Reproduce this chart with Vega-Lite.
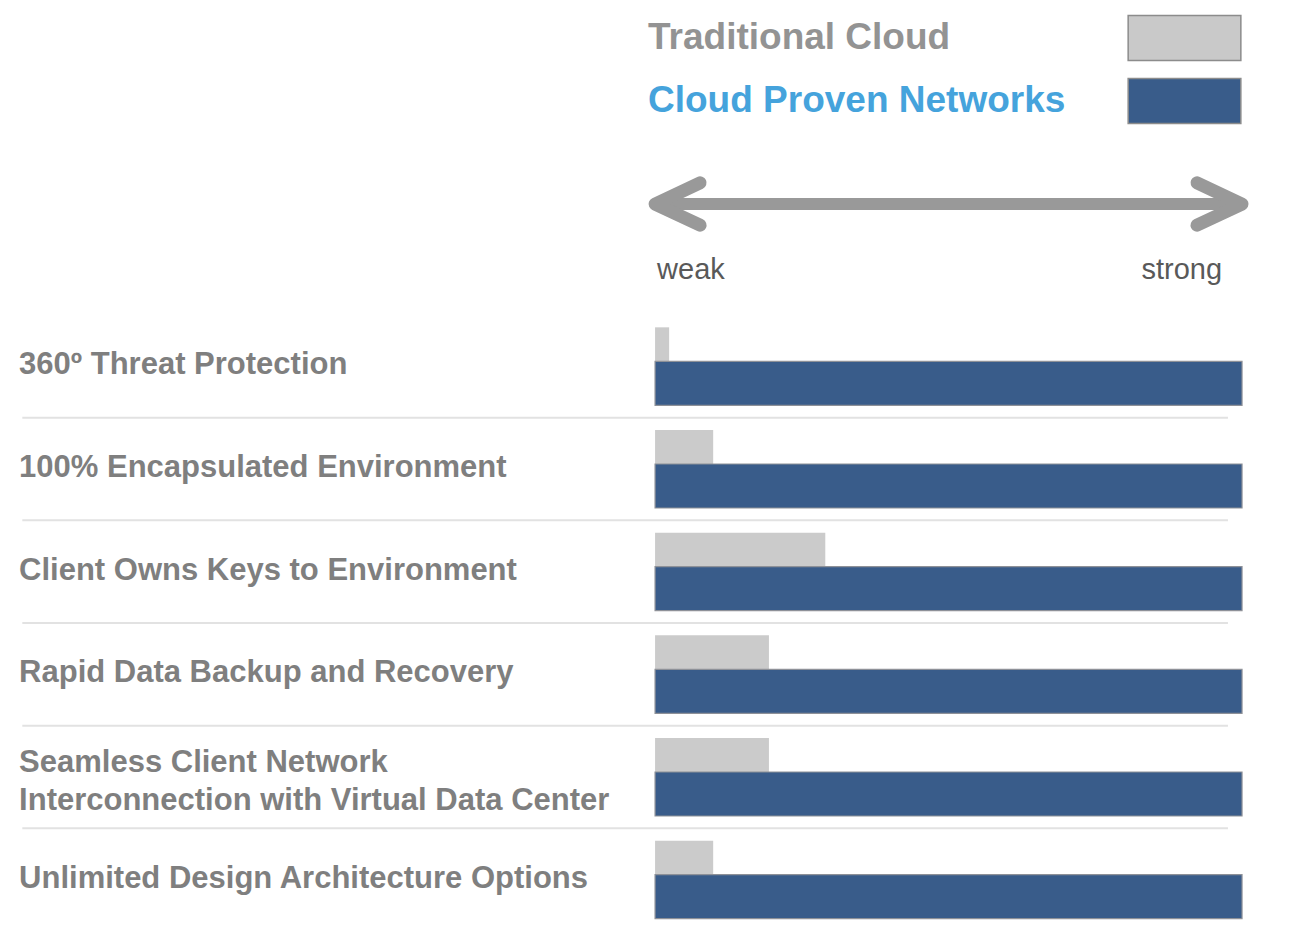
{
  "$schema": "https://vega.github.io/schema/vega-lite/v6.json",
  "padding": 0,
  "spacing": 0,
  "bounds": "flush",
  "background": "white",
  "config": {"view": {"stroke": null}, "font": "Liberation Sans"},
  "datasets": {
    "legend": [
      {"series": "Traditional Cloud"},
      {"series": "Cloud Proven Networks"}
    ],
    "ends": [
      {"end": "weak", "value": 0},
      {"end": "strong", "value": 100}
    ],
    "features": [
      {"feature": "360º Threat Protection", "traditional": 2.4, "proven": 100},
      {"feature": "100% Encapsulated Environment", "traditional": 9.9, "proven": 100},
      {"feature": "Client Owns Keys to Environment", "traditional": 29.0, "proven": 100},
      {"feature": "Rapid Data Backup and Recovery", "traditional": 19.4, "proven": 100},
      {"feature": "Seamless Client Network\nInterconnection with Virtual Data Center", "traditional": 19.4, "proven": 100},
      {"feature": "Unlimited Design Architecture Options", "traditional": 9.9, "proven": 100}
    ]
  },
  "vconcat": [
    {
      "width": 1311,
      "height": 140,
      "data": {"name": "legend"},
      "layer": [
        {
          "mark": {"type": "bar", "height": 45, "stroke": "#8c8c8c", "strokeWidth": 1.5},
          "encoding": {
            "y": {"field": "series", "type": "nominal", "sort": null, "axis": null,
                  "scale": {"domain": ["Traditional Cloud", "Cloud Proven Networks"], "paddingInner": 0, "paddingOuter": 0.111, "align": 0.464}},
            "x": {"datum": 80.6, "type": "quantitative", "axis": null, "scale": {"domain": [-111.6, 111.75], "nice": false, "zero": false}},
            "x2": {"datum": 99.8},
            "fill": {"field": "series", "type": "nominal", "legend": null,
                     "scale": {"domain": ["Traditional Cloud", "Cloud Proven Networks"], "range": ["#c9c9c9", "#395c8a"]}}
          }
        },
        {
          "mark": {"type": "text", "align": "left", "baseline": "middle", "fontSize": 37, "fontWeight": "bold"},
          "encoding": {
            "y": {"field": "series", "type": "nominal", "sort": null, "axis": null,
                  "scale": {"domain": ["Traditional Cloud", "Cloud Proven Networks"], "paddingInner": 0, "paddingOuter": 0.111, "align": 0.464}},
            "x": {"datum": -1.2, "type": "quantitative", "axis": null, "scale": {"domain": [-111.6, 111.75], "nice": false, "zero": false}},
            "text": {"field": "series"},
            "color": {"field": "series", "type": "nominal", "legend": null,
                      "scale": {"domain": ["Traditional Cloud", "Cloud Proven Networks"], "range": ["#939393", "#45a3dc"]}}
          }
        }
      ]
    },
    {
      "width": 1311,
      "height": 175,
      "data": {"name": "ends"},
      "layer": [
        {
          "mark": {"type": "rule", "color": "#999999", "strokeWidth": 12},
          "encoding": {
            "y": {"datum": "arrow", "type": "nominal", "axis": null,
                  "scale": {"domain": ["arrow", "ends"], "paddingInner": 0, "paddingOuter": 0.326, "align": 0.721}},
            "x": {"aggregate": "min", "field": "value", "type": "quantitative", "axis": null, "scale": {"domain": [-111.6, 111.75], "nice": false, "zero": false}},
            "x2": {"aggregate": "max", "field": "value"}
          }
        },
        {
          "mark": {"type": "point", "filled": false, "opacity": 1, "size": 8100, "stroke": "#999999", "strokeWidth": 13, "strokeCap": "round", "strokeJoin": "round"},
          "encoding": {
            "y": {"datum": "arrow", "type": "nominal", "axis": null,
                  "scale": {"domain": ["arrow", "ends"], "paddingInner": 0, "paddingOuter": 0.326, "align": 0.721}},
            "x": {"field": "value", "type": "quantitative", "axis": null, "scale": {"domain": [-111.6, 111.75], "nice": false, "zero": false}},
            "shape": {"field": "end", "type": "nominal", "legend": null,
                      "scale": {"domain": ["weak", "strong"], "range": ["M1,-0.47L0,0L1,0.47", "M-1,-0.47L0,0L-1,0.47"]}}
          }
        },
        {
          "transform": [{"filter": "datum.end === 'weak'"}],
          "mark": {"type": "text", "align": "left", "baseline": "middle", "fontSize": 29, "color": "#595959", "dx": 2},
          "encoding": {
            "y": {"datum": "ends", "type": "nominal", "axis": null,
                  "scale": {"domain": ["arrow", "ends"], "paddingInner": 0, "paddingOuter": 0.326, "align": 0.721}},
            "x": {"field": "value", "type": "quantitative", "axis": null, "scale": {"domain": [-111.6, 111.75], "nice": false, "zero": false}},
            "text": {"field": "end"}
          }
        },
        {
          "transform": [{"filter": "datum.end === 'strong'"}],
          "mark": {"type": "text", "align": "right", "baseline": "middle", "fontSize": 29, "color": "#595959", "dx": -20},
          "encoding": {
            "y": {"datum": "ends", "type": "nominal", "axis": null,
                  "scale": {"domain": ["arrow", "ends"], "paddingInner": 0, "paddingOuter": 0.326, "align": 0.721}},
            "x": {"field": "value", "type": "quantitative", "axis": null, "scale": {"domain": [-111.6, 111.75], "nice": false, "zero": false}},
            "text": {"field": "end"}
          }
        }
      ]
    },
    {
      "width": 1311,
      "height": 616,
      "data": {"name": "features"},
      "layer": [
        {
          "transform": [{"filter": "indexof(datum.feature, 'Unlimited') < 0"}],
          "mark": {"type": "rule", "color": "#e2e2e2", "strokeWidth": 2},
          "encoding": {
            "y": {"field": "feature", "type": "nominal", "sort": null, "axis": null, "bandPosition": 1,
                  "scale": {"paddingInner": 0, "paddingOuter": 0}},
            "x": {"datum": -107.8, "type": "quantitative", "axis": null, "scale": {"domain": [-111.6, 111.75], "nice": false, "zero": false}},
            "x2": {"datum": 97.6}
          }
        },
        {
          "mark": {"type": "bar", "height": 34, "yOffset": -22, "color": "#cbcbcb"},
          "encoding": {
            "y": {"field": "feature", "type": "nominal", "sort": null, "axis": null,
                  "scale": {"paddingInner": 0, "paddingOuter": 0}},
            "x": {"field": "traditional", "type": "quantitative", "axis": null, "stack": null, "scale": {"domain": [-111.6, 111.75], "nice": false, "zero": false}}
          }
        },
        {
          "mark": {"type": "bar", "height": 44, "yOffset": 17, "color": "#395c8a", "stroke": "#8e9198", "strokeWidth": 1.2},
          "encoding": {
            "y": {"field": "feature", "type": "nominal", "sort": null, "axis": null,
                  "scale": {"paddingInner": 0, "paddingOuter": 0}},
            "x": {"field": "proven", "type": "quantitative", "axis": null, "stack": null, "scale": {"domain": [-111.6, 111.75], "nice": false, "zero": false}}
          }
        },
        {
          "transform": [{"filter": "indexof(datum.feature, 'Seamless') < 0"}],
          "mark": {"type": "text", "align": "left", "baseline": "middle", "fontSize": 31, "fontWeight": "bold", "color": "#7f7f7f", "dy": -1},
          "encoding": {
            "y": {"field": "feature", "type": "nominal", "sort": null, "axis": null,
                  "scale": {"paddingInner": 0, "paddingOuter": 0}},
            "x": {"datum": -108.35, "type": "quantitative", "axis": null, "scale": {"domain": [-111.6, 111.75], "nice": false, "zero": false}},
            "text": {"field": "feature"}
          }
        },
        {
          "transform": [{"filter": "indexof(datum.feature, 'Seamless') >= 0"}],
          "mark": {"type": "text", "align": "left", "baseline": "middle", "fontSize": 31, "fontWeight": "bold", "color": "#7f7f7f", "lineBreak": "\n", "lineHeight": 38, "dy": -14},
          "encoding": {
            "y": {"field": "feature", "type": "nominal", "sort": null, "axis": null,
                  "scale": {"paddingInner": 0, "paddingOuter": 0}},
            "x": {"datum": -108.35, "type": "quantitative", "axis": null, "scale": {"domain": [-111.6, 111.75], "nice": false, "zero": false}},
            "text": {"field": "feature"}
          }
        }
      ]
    }
  ]
}
